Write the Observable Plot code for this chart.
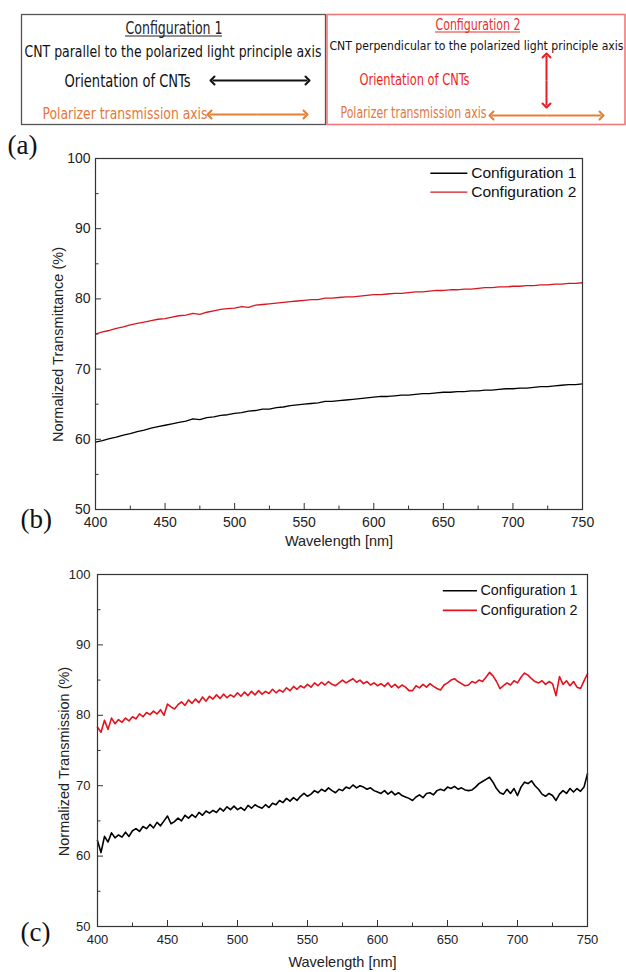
<!DOCTYPE html>
<html><head><meta charset="utf-8">
<script src="https://cdn.jsdelivr.net/npm/d3@7"></script>
<script src="https://cdn.jsdelivr.net/npm/@observablehq/plot@0.6"></script>
<style>
body{margin:0;background:#fff;}
#fig{position:relative;width:626px;height:972px;overflow:hidden;background:#fff;}
#fig > div{position:absolute;left:0;}
</style></head><body>
<div id="fig"><div id="pa" style="top:0"></div><div id="pb" style="top:148px"></div><div id="pc" style="top:562px"></div></div>
<script>
// ---------- data ----------
const seriesNames = ["Configuration 1", "Configuration 2"];
const xTicksMajor = [400, 450, 500, 550, 600, 650, 700, 750];
const xTicksMinor = [425, 475, 525, 575, 625, 675, 725];
const yTicksMajor = [50, 60, 70, 80, 90, 100];
const yTicksMinor = [55, 65, 75, 85, 95];
const xTitle = "Wavelength [nm]";
const yTitleB = "Normalized Transmittance (%)";
const yTitleC = "Normalized Transmission (%)";

// panel (b): 5 nm sampling, 400..750
const bConfig1 = [
 59.6, 59.8, 60.1, 60.3, 60.6, 60.8, 61.1, 61.3, 61.6, 61.8,
 62.0, 62.2, 62.4, 62.6, 62.9, 62.8, 63.1, 63.2, 63.4, 63.5,
 63.7, 63.8, 64.0, 64.1, 64.3, 64.3, 64.5, 64.6, 64.8, 64.9,
 65.0, 65.1, 65.2, 65.4, 65.4, 65.5, 65.6, 65.7, 65.8, 65.9,
 66.0, 66.1, 66.1, 66.2, 66.3, 66.3, 66.4, 66.5, 66.5, 66.6,
 66.7, 66.7, 66.8, 66.8, 66.9, 66.9, 67.0, 67.0, 67.1, 67.2,
 67.2, 67.3, 67.3, 67.4, 67.5, 67.5, 67.6, 67.7, 67.8, 67.8,
 67.9];
const bConfig2 = [
 75.0, 75.3, 75.5, 75.8, 76.0, 76.3, 76.5, 76.7, 76.9, 77.1,
 77.2, 77.4, 77.6, 77.7, 77.95, 77.8, 78.1, 78.3, 78.5, 78.6,
 78.7, 78.9, 78.8, 79.1, 79.2, 79.3, 79.4, 79.5, 79.6, 79.7,
 79.8, 79.9, 79.9, 80.1, 80.1, 80.2, 80.3, 80.3, 80.4, 80.5,
 80.6, 80.6, 80.7, 80.8, 80.8, 80.9, 81.0, 81.0, 81.1, 81.2,
 81.2, 81.3, 81.3, 81.4, 81.4, 81.5, 81.6, 81.6, 81.7, 81.7,
 81.8, 81.8, 81.9, 81.9, 82.0, 82.0, 82.1, 82.1, 82.2, 82.2,
 82.3];

// panel (c): 2.5 nm sampling, 400..750
const cConfig1 = [
 62.2, 60.5, 62.8, 62.0, 63.3, 62.6, 63.0, 62.7, 63.4, 62.8,
 63.6, 63.9, 63.5, 64.2, 63.9, 64.5, 64.0, 64.8, 64.3, 65.0,
 65.7, 64.6, 64.9, 65.4, 65.0, 65.8, 65.4, 65.9, 65.5, 66.2,
 65.8, 66.4, 66.1, 66.5, 66.2, 66.8, 66.4, 67.0, 66.6, 67.1,
 66.6, 66.9, 66.5, 67.2, 66.8, 67.3, 67.0, 66.8, 67.3, 66.9,
 67.5, 67.3, 67.9, 67.6, 68.2, 67.8, 68.3, 67.9, 68.5, 68.9,
 68.5, 68.8, 69.3, 69.0, 69.5, 69.2, 69.7, 69.3, 69.0, 69.5,
 69.3, 69.8, 69.6, 70.1, 69.7, 70.0, 69.8, 69.5, 69.7, 69.3,
 69.1, 68.9, 69.3, 68.8, 69.2, 68.7, 69.0, 68.6, 68.4, 68.2,
 67.9, 68.4, 68.7, 68.3, 68.9, 69.0, 68.7, 69.3, 69.5, 69.3,
 69.8, 69.6, 69.9, 69.5, 69.7, 69.4, 69.3, 69.4, 69.8, 70.3,
 70.6, 70.9, 71.2, 70.5, 69.6, 69.0, 68.8, 69.5, 68.9, 69.6,
 68.6, 69.8, 70.5, 70.3, 70.7, 70.0, 69.5, 68.8, 68.5, 68.9,
 68.6, 67.9, 68.8, 69.3, 68.9, 69.6, 69.1, 69.6, 69.2, 69.8,
 71.7];
const cConfig2 = [
 78.3, 77.6, 79.3, 78.0, 79.6, 78.8, 79.4, 79.0, 79.6, 79.2,
 79.8, 79.5, 80.2, 79.8, 80.4, 80.1, 80.6, 80.2, 80.8, 80.0,
 81.6, 81.2, 80.9, 81.5, 81.9, 81.4, 82.2, 81.7, 82.3, 81.8,
 82.6, 82.0, 82.7, 82.3, 82.9, 82.4, 83.0, 82.5, 82.9, 82.6,
 83.2, 82.7, 83.3, 82.8, 83.4, 82.9, 83.5, 83.0, 83.4, 83.1,
 83.7, 83.2, 83.6, 83.3, 83.9, 83.5, 84.1, 83.7, 84.2, 83.9,
 84.4, 84.0, 84.6, 84.2, 84.7, 84.3, 84.8, 84.4, 84.2, 84.6,
 85.0, 84.6, 84.9, 85.2, 84.7, 85.0, 84.5, 84.8, 84.3, 84.6,
 84.2, 84.5, 84.1, 84.6, 84.0, 84.4, 83.9, 84.3, 84.0, 83.5,
 83.5, 84.2, 83.9, 84.4, 84.0, 84.5, 84.1, 83.8, 83.6, 84.3,
 84.6, 85.0, 85.2, 84.8, 84.5, 84.2, 84.3, 84.8, 84.6, 85.0,
 84.8, 85.4, 86.1, 85.6, 84.8, 83.8, 84.2, 84.6, 84.3, 84.9,
 84.6, 85.4, 86.0, 85.7, 85.2, 84.8, 84.6, 84.9, 84.4, 84.8,
 84.5, 82.8, 85.5, 84.4, 84.9, 84.2, 84.8, 84.0, 83.8, 84.9,
 85.9];

const wl5 = d3.range(0, bConfig1.length).map(i => 400 + 5 * i);
const wl25 = d3.range(0, cConfig1.length).map(i => 400 + 2.5 * i);

// panel (a) diagram texts
const aTitle1 = "Configuration 1", aTitle2 = "Configuration 2";
const aLine1 = "CNT parallel to the polarized light principle axis";
const aLine2 = "CNT perpendicular to the polarized light principle axis";
const aOrient = "Orientation of CNTs";
const aPolar = "Polarizer transmission axis";

// ---------- layout ----------
const W = 626;
const SANS = "'Liberation Sans', Arial, sans-serif";
const SERIF = "'Liberation Serif', 'Times New Roman', serif";
const NARROW = "'Liberation Sans Narrow', 'DejaVu Sans Condensed', 'Open Sans', sans-serif";
const ORANGE = "#e2783a";

// Panel (a)
(function () {
  const items = [
    {t: aTitle1, x: 125, y: 33, size: 17, fill: "#222", w: 97},
    {t: aLine1, x: 24, y: 56.5, size: 15.3, fill: "#111", w: 297},
    {t: aOrient, x: 64, y: 86.5, size: 17, fill: "#111", w: 126},
    {t: aPolar, x: 42, y: 118, size: 15.5, fill: ORANGE, w: 165},
    {t: aTitle2, x: 435, y: 29.5, size: 15, fill: "#e8302f", w: 85},
    {t: aLine2, x: 329, y: 49.5, size: 11.9, fill: "#111", w: 294},
    {t: aOrient, x: 359, y: 84, size: 15.5, fill: "#f01c1c", w: 110},
    {t: aPolar, x: 340, y: 117.5, size: 15.5, fill: ORANGE, w: 146}
  ];
  // double-headed arrows: drawn as two halves pointing outward from the middle
  const arrows = [
    {x1: 212, y1: 80, x2: 307, y2: 80, c: "#111"},
    {x1: 209, y1: 114, x2: 305, y2: 114, c: "#e58033"},
    {x1: 546, y1: 55, x2: 546, y2: 105, c: "#e81c24"},
    {x1: 491, y1: 115, x2: 601, y2: 115, c: "#e58033"}
  ];
  const halves = arrows.flatMap(d => {
    const mx = (d.x1 + d.x2) / 2, my = (d.y1 + d.y2) / 2;
    return [{x1: mx, y1: my, x2: d.x1, y2: d.y1, c: d.c}, {x1: mx, y1: my, x2: d.x2, y2: d.y2, c: d.c}];
  });
  const svg = Plot.plot({
    width: W, height: 160, margin: 0,
    x: {domain: [0, W], range: [0, W], axis: null},
    y: {domain: [0, 160], range: [0, 160], axis: null},
    style: {background: "transparent", overflow: "visible"},
    marks: [
      Plot.rect([{x1: 21.5, x2: 325.5, y1: 14.5, y2: 124.5}], {x1: "x1", x2: "x2", y1: "y1", y2: "y2", fill: "none", stroke: "#555", strokeWidth: 1.3}),
      Plot.rect([{x1: 327, x2: 625, y1: 14.5, y2: 124.5}], {x1: "x1", x2: "x2", y1: "y1", y2: "y2", fill: "none", stroke: "#f07a7a", strokeWidth: 1.6}),
      ...items.map(d => Plot.text([d], {x: "x", y: "y", text: "t", fill: d.fill, fontSize: d.size, fontFamily: NARROW, textAnchor: "start", lineAnchor: "bottom"})),
      Plot.ruleY([{y: 35.5, x1: 125, x2: 222}], {y: "y", x1: "x1", x2: "x2", stroke: "#222", strokeWidth: 1}),
      Plot.ruleY([{y: 31.5, x1: 435, x2: 520}], {y: "y", x1: "x1", x2: "x2", stroke: "#e8302f", strokeWidth: 1}),
      ...halves.map(d => Plot.link([d], {x1: "x1", y1: "y1", x2: "x2", y2: "y2", stroke: d.c, strokeWidth: 2, markerEnd: "arrow"})),
      Plot.text(["(a)"], {x: 7, y: 153, text: d => d, fontSize: 27, fontFamily: SERIF, fill: "#111", textAnchor: "start", lineAnchor: "bottom"})
    ]
  });
  const texts = d3.select(svg).selectAll("text").nodes();
  items.forEach((d, i) => {
    const el = texts[i];
    if (el && el.textContent === d.t) {
      el.setAttribute("textLength", d.w);
      el.setAttribute("lengthAdjust", "spacingAndGlyphs");
    }
  });
  document.getElementById("pa").appendChild(svg);
})();

function makePanel(cfg) {
  const ph = cfg.height - cfg.mt - cfg.mb, pw = W - cfg.ml - cfg.mr;
  const rows = [];
  cfg.wl.forEach((w, i) => rows.push({w, v: cfg.c1[i], s: seriesNames[0]}));
  cfg.wl.forEach((w, i) => rows.push({w, v: cfg.c2[i], s: seriesNames[1]}));
  const leg = seriesNames.map((s, i) => ({s, y: cfg.legY[i]}));
  return Plot.plot({
    width: W, height: cfg.height,
    marginTop: cfg.mt, marginBottom: cfg.mb, marginLeft: cfg.ml, marginRight: cfg.mr,
    style: {fontFamily: SANS, background: "transparent", color: "#222", overflow: "visible"},
    x: {domain: [400, 750]},
    y: {domain: [50, 100]},
    color: {domain: seriesNames, range: ["#000", cfg.red]},
    marks: [
      Plot.line(rows, {x: "w", y: "v", z: "s", stroke: "s", strokeWidth: cfg.lw}),
      Plot.frame({stroke: "#333", strokeWidth: 1.2}),
      Plot.tickX(xTicksMajor, {x: d => d, insetTop: ph - 6, stroke: "#333"}),
      Plot.tickX(xTicksMinor, {x: d => d, insetTop: ph - 3.5, stroke: "#333"}),
      Plot.tickY(yTicksMajor, {y: d => d, insetRight: pw - 6, stroke: "#333"}),
      Plot.tickY(yTicksMinor, {y: d => d, insetRight: pw - 3.5, stroke: "#333"}),
      Plot.axisX({ticks: xTicksMajor, tickSize: 0, tickPadding: cfg.xPad, fontSize: cfg.tickFs, label: null, tickFormat: d => String(d)}),
      Plot.axisY({ticks: yTicksMajor, tickSize: 0, tickPadding: cfg.yPad, fontSize: cfg.tickFs, label: null, tickFormat: d => String(d)}),
      Plot.text([xTitle], {text: d => d, frameAnchor: "bottom", dy: cfg.xlabDy, fontSize: cfg.labFs, textAnchor: "middle", lineAnchor: "middle", fill: "#222"}),
      Plot.text([cfg.ylabel], {text: d => d, frameAnchor: "left", rotate: -90, dx: cfg.ylabDx, dy: cfg.ylabDy, fontSize: cfg.labFs, textAnchor: "middle", lineAnchor: "middle", fill: "#222"}),
      Plot.ruleY(leg, {y: "y", x1: cfg.legX1, x2: cfg.legX2, stroke: "s", strokeWidth: cfg.lw}),
      Plot.text(leg, {y: "y", x: cfg.legTX, text: "s", textAnchor: "start", lineAnchor: "middle", fontSize: cfg.legFs, fill: "#111"}),
      Plot.text([cfg.letter], {text: d => d, frameAnchor: "bottom-left", dx: cfg.letDx, dy: cfg.letDy, fontSize: 27, fontFamily: SERIF, textAnchor: "start", lineAnchor: "bottom", fill: "#111"})
    ]
  });
}

document.getElementById("pb").appendChild(makePanel({
  height: 400, mt: 10, mb: 39, ml: 95, mr: 44,
  wl: wl5, c1: bConfig1, c2: bConfig2, lw: 1.3, red: "#d8161f",
  tickFs: 14, xPad: 8, yPad: 5, labFs: 14.5, xlabDy: 32,
  ylabel: yTitleB, ylabDx: -37, ylabDy: 10.5,
  legY: [97.9, 95.2], legX1: 641, legX2: 667.6, legTX: 670, legFs: 15.5,
  letter: "(b)", letDx: -75, letDy: 18
}));

document.getElementById("pc").appendChild(makePanel({
  height: 410, mt: 12, mb: 46, ml: 97, mr: 39,
  wl: wl25, c1: cConfig1, c2: cConfig2, lw: 1.6, red: "#e3121c",
  tickFs: 13, xPad: 8, yPad: 7, labFs: 14.5, xlabDy: 36,
  ylabel: yTitleC, ylabDx: -33, ylabDy: 11,
  legY: [97.7, 94.9], legX1: 647, legX2: 671.4, legTX: 673.6, legFs: 14.3,
  letter: "(c)", letDx: -77, letDy: 14
}));
</script>
</body></html>
